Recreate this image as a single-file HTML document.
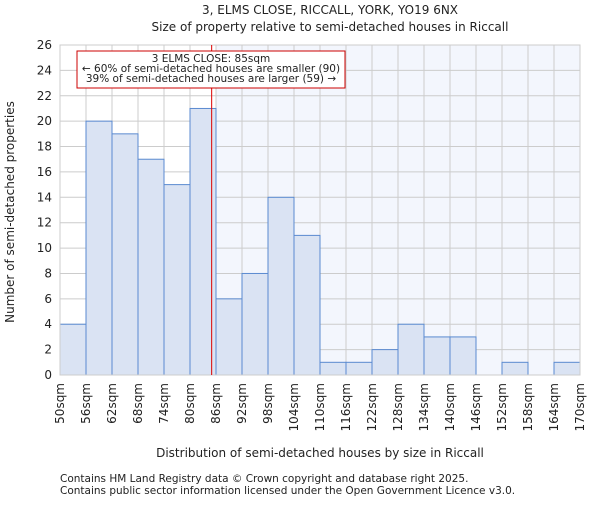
<!DOCTYPE html>
<html><head><meta charset="utf-8"><style>
body{margin:0;background:#fff}
svg text{font-family:"DejaVu Sans","Liberation Sans",sans-serif;fill:#222}
</style></head><body>
<svg id="chart" width="600" height="500">
<text x="330" y="14" font-size="12" text-anchor="middle">3, ELMS CLOSE, RICCALL, YORK, YO19 6NX</text>
<text x="330" y="31" font-size="12" text-anchor="middle">Size of property relative to semi-detached houses in Riccall</text>
<g id="plot"></g>
<text x="320" y="457" font-size="12" text-anchor="middle">Distribution of semi-detached houses by size in Riccall</text>
<text transform="translate(14,212) rotate(-90)" font-size="12" text-anchor="middle">Number of semi-detached properties</text>
<text x="60" y="482" font-size="10.5" fill="#444">Contains HM Land Registry data © Crown copyright and database right 2025.</text>
<text x="60" y="494" font-size="10.5" fill="#444">Contains public sector information licensed under the Open Government Licence v3.0.</text>
</svg>
<script>
const binStarts=[50,56,62,68,74,80,86,92,98,104,110,116,122,128,134,140,146,152,158,164];
const counts=[4,20,19,17,15,21,6,8,14,11,1,1,2,4,3,3,0,1,0,1];
const xTicks=[50,56,62,68,74,80,86,92,98,104,110,116,122,128,134,140,146,152,158,164,170];
const yTicks=[0,2,4,6,8,10,12,14,16,18,20,22,24,26];
const marker=85;
const L=60,R=580,T=45,B=375,xmin=50,xmax=170,ymax=26;
const xs=v=>L+(v-xmin)/(xmax-xmin)*(R-L);
const ys=v=>B-v/ymax*(B-T);
const NS='http://www.w3.org/2000/svg';
const g=document.getElementById('plot');
function mk(t,a){const e=document.createElementNS(NS,t);for(const k in a)e.setAttribute(k,a[k]);g.appendChild(e);return e;}
let shade=mk('rect',{x:xs(86),y:T,width:R-xs(86),height:B-T,fill:'#f3f6fd'});


yTicks.forEach(v=>{const l=mk('line',{x1:L,x2:R,y1:ys(v),y2:ys(v),stroke:'#ccc','stroke-width':1});


const t=mk('text',{x:L-8,y:ys(v)+4,'font-size':12,'text-anchor':'end'});t.textContent=v;

});
xTicks.forEach(v=>{const l=mk('line',{x1:xs(v),x2:xs(v),y1:T,y2:B,stroke:'#ccc','stroke-width':1});


const t=mk('text',{'font-size':12,'text-anchor':'end',transform:`translate(${xs(v)+4},${B+8}) rotate(-90)`});t.textContent=v+'sqm';

});
binStarts.forEach((s,i)=>{if(!counts[i])return;const r=mk('rect',{x:xs(s),y:ys(counts[i]),width:xs(s+6)-xs(s),height:B-ys(counts[i]),fill:'#dae3f3',stroke:'#5a8ad0','stroke-width':1});

});
const ax=mk('rect',{x:L,y:T,width:R-L,height:B-T,fill:'none',stroke:'#ccc'});


const ml=mk('line',{x1:xs(marker),x2:xs(marker),y1:T,y2:B,stroke:'#dd0000','stroke-width':1});


const box=mk('rect',{x:77,y:51,width:268,height:37,fill:'#fff',stroke:'#cc0000'});


['3 ELMS CLOSE: 85sqm','← 60% of semi-detached houses are smaller (90)','39% of semi-detached houses are larger (59) →'].forEach((s,i)=>{
const t=mk('text',{x:211,y:62+i*10,'font-size':10.5,'text-anchor':'middle'});t.textContent=s;

});
</script>
</body></html>
